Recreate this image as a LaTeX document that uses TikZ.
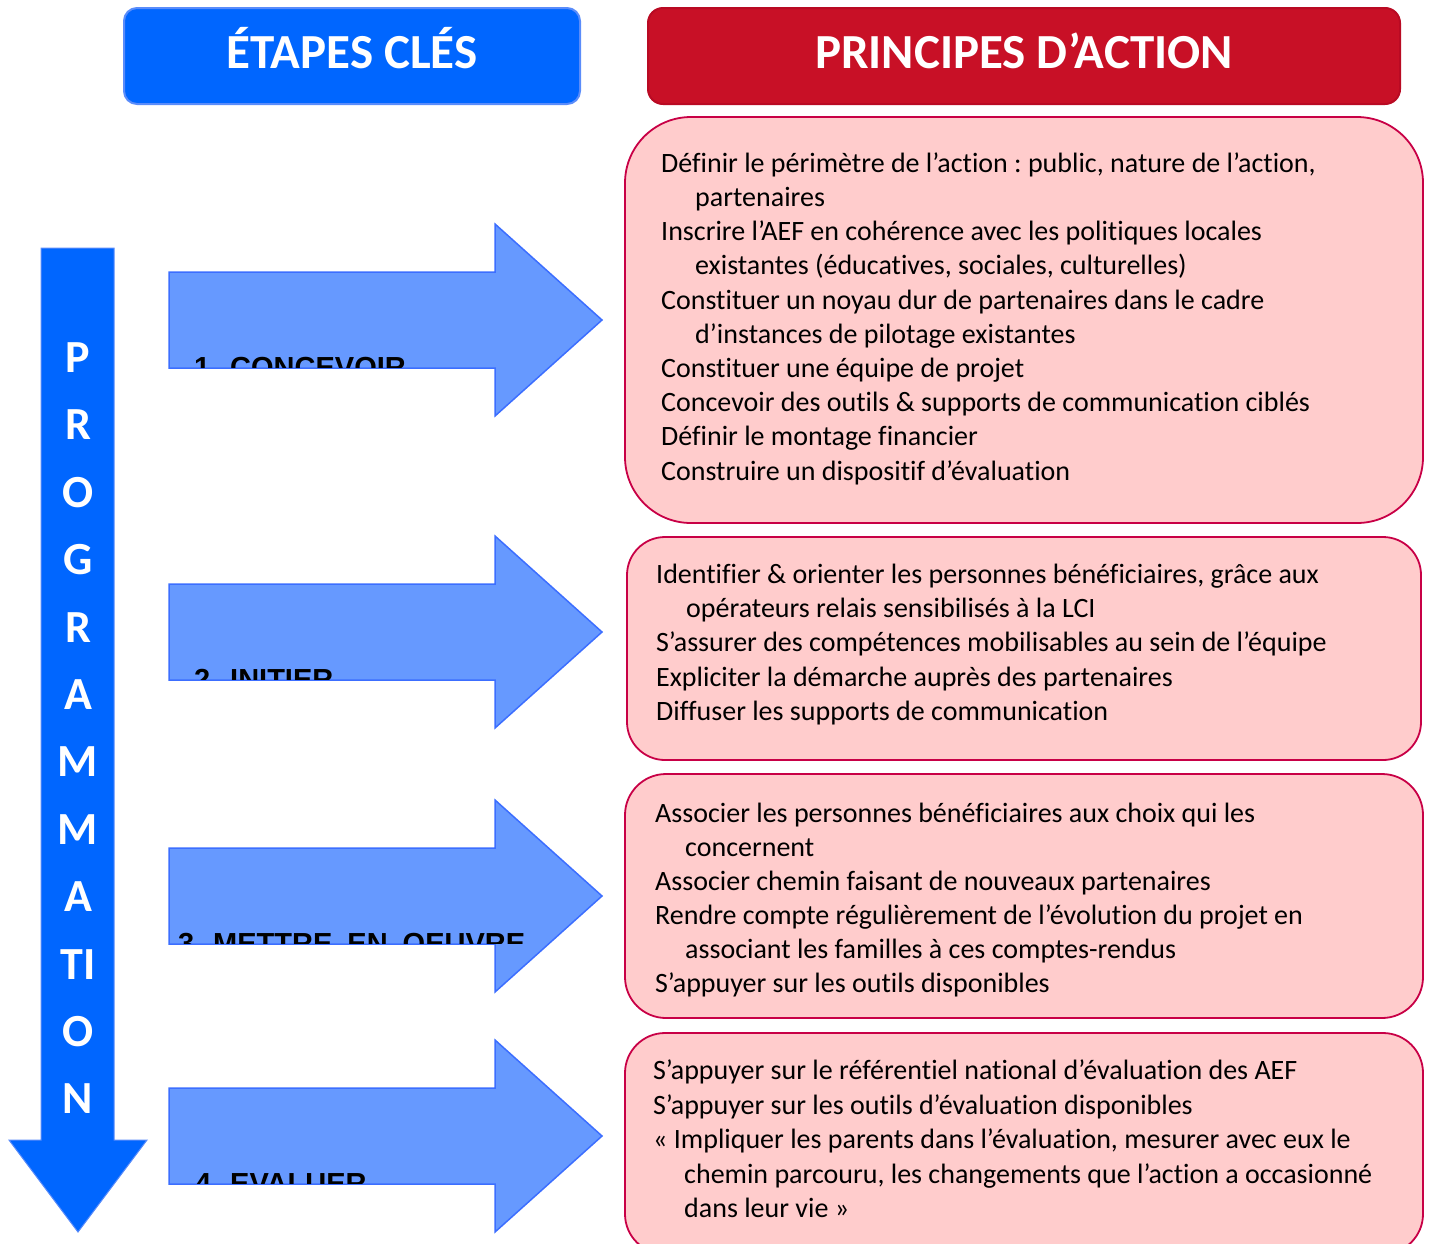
\documentclass[tikz,border=0pt]{standalone}
\usepackage{fontspec}
\setmainfont{Carlito}[Ligatures=CommonOff]
\newfontfamily\arialfont{Liberation Sans}
\frenchspacing
\definecolor{hblue}{RGB}{0,102,255}
\definecolor{hblueedge}{RGB}{90,140,250}
\definecolor{hred}{RGB}{200,16,38}
\definecolor{hrededge}{RGB}{185,10,35}
\definecolor{pinkfill}{RGB}{255,204,204}
\definecolor{pinkedge}{RGB}{200,0,70}
\definecolor{arrfill}{RGB}{102,153,255}
\definecolor{arredge}{RGB}{60,110,255}
\begin{document}
\begin{tikzpicture}[x=1pt,y=-1pt,
  headbox/.style={draw=#1, line width=2pt, rounded corners=13pt, inner sep=0pt},
  headtext/.style={anchor=base, text=white, inner sep=0pt, font=\fontsize{49}{52}\selectfont\bfseries},
  pinkbox/.style={draw=pinkedge, fill=pinkfill, line width=1.8pt, inner sep=0pt},
  txt/.style={anchor=base west, inner sep=0pt, font=\fontsize{28}{32}\selectfont},
  vletter/.style={anchor=base, text=white, inner sep=0pt, font=\fontsize{46}{50}\selectfont\bfseries},
  arrlabel/.style={anchor=base west, inner sep=0pt, font=\arialfont\fontsize{29}{32}\selectfont\bfseries},
  bluearrow/.style={draw=arredge, fill=arrfill, line width=1.5pt, line join=miter}
]
\useasboundingbox (0,0) rectangle (1431,1243);

% headers
\node[headbox=hblueedge, fill=hblue, minimum width=456pt, minimum height=96pt] (hleft) at (352,56) {};
\node[headtext] (hlefttxt) at (352,68) {ÉTAPES CLÉS};
\node[headbox=hrededge, fill=hred, minimum width=752pt, minimum height=96pt, rounded corners=15pt] (hright) at (1024,56) {};
\node[headtext] (hrighttxt) at (1024,68) {PRINCIPES D’ACTION};

% vertical arrow
\draw[fill=hblue, draw=hblueedge, line width=1pt, line join=miter]
  (41,248) -- (114,248) -- (114,1140) -- (147,1140) -- (78,1232) -- (9,1140) -- (41,1140) -- cycle;
\foreach \l [count=\i from 0] in {P,R,O,G,R,A,M,M,A,TI,O,N}{
  \node[vletter] (v\i) at (78,{372.5+67.4*\i}) {\l};
}

% step arrows with clipped labels
\foreach \c/\num/\nx/\wx/\word [count=\k] in {
  320/1./194/230/CONCEVOIR,
  632/2./194/230/INITIER,
  896/3./178/213/METTRE\hspace{15pt}EN\hspace{15pt}OEUVRE,
  1136/4./195/230/EVALUER}{
  \draw[bluearrow] (169,\c-48) -- (495,\c-48) -- (495,\c-96) -- (602,\c) -- (495,\c+96) -- (495,\c+48) -- (169,\c+48) -- cycle;
  \begin{scope}
    \clip (170,\c-47) rectangle (600,\c+47);
    \node[arrlabel] (n\k) at (\nx,\c+57) {\num};
    \node[arrlabel] (w\k) at (\wx,\c+57) {\word};
  \end{scope}
}

% pink boxes
\node[pinkbox, rounded corners=66pt, minimum width=798pt, minimum height=406pt] (b1) at (1024,320) {};
\node[pinkbox, rounded corners=38pt, minimum width=794pt, minimum height=223pt] (b2) at (1024,648.5) {};
\node[pinkbox, rounded corners=41pt, minimum width=798pt, minimum height=244pt] (b3) at (1024,896) {};
\node[pinkbox, rounded corners=40pt, minimum width=798pt, minimum height=221pt] (b4) at (1024,1143.5) {};

% box 1 text
\node[txt] (t11) at (661,172) {Définir le périmètre de l’action : public, nature de l’action,};
\node[txt] (t12) at (695,206) {partenaires};
\node[txt] (t13) at (661,240) {Inscrire l’AEF en cohérence avec les politiques locales};
\node[txt] (t14) at (695,274) {existantes (éducatives, sociales, culturelles)};
\node[txt] (t15) at (661,309) {Constituer un noyau dur de partenaires dans le cadre};
\node[txt] (t16) at (695,343) {d’instances de pilotage existantes};
\node[txt] (t17) at (661,377) {Constituer une équipe de projet};
\node[txt] (t18) at (661,411) {Concevoir des outils \& supports de communication ciblés};
\node[txt] (t19) at (661,445) {Définir le montage financier};
\node[txt] (t110) at (661,480) {Construire un dispositif d’évaluation};

% box 2 text
\node[txt] (t21) at (656,583) {Identifier \& orienter les personnes bénéficiaires, grâce aux};
\node[txt] (t22) at (686,617) {opérateurs relais sensibilisés à la LCI};
\node[txt] (t23) at (656,651) {S’assurer des compétences mobilisables au sein de l’équipe};
\node[txt] (t24) at (656,686) {Expliciter la démarche auprès des partenaires};
\node[txt] (t25) at (656,720) {Diffuser les supports de communication};

% box 3 text
\node[txt] (t31) at (655,822) {Associer les personnes bénéficiaires aux choix qui les};
\node[txt] (t32) at (685,856) {concernent};
\node[txt] (t33) at (655,890) {Associer chemin faisant de nouveaux partenaires};
\node[txt] (t34) at (655,924) {Rendre compte régulièrement de l’évolution du projet en};
\node[txt] (t35) at (685,958) {associant les familles à ces comptes-rendus};
\node[txt] (t36) at (655,992) {S’appuyer sur les outils disponibles};

% box 4 text
\node[txt] (t41) at (653,1079) {S’appuyer sur le référentiel national d’évaluation des AEF};
\node[txt] (t42) at (653,1114) {S’appuyer sur les outils d’évaluation disponibles};
\node[txt] (t43) at (653,1148) {« Impliquer les parents dans l’évaluation, mesurer avec eux le};
\node[txt] (t44) at (684,1183) {chemin parcouru, les changements que l’action a occasionné};
\node[txt] (t45) at (684,1217) {dans leur vie »};
\end{tikzpicture}
\end{document}
